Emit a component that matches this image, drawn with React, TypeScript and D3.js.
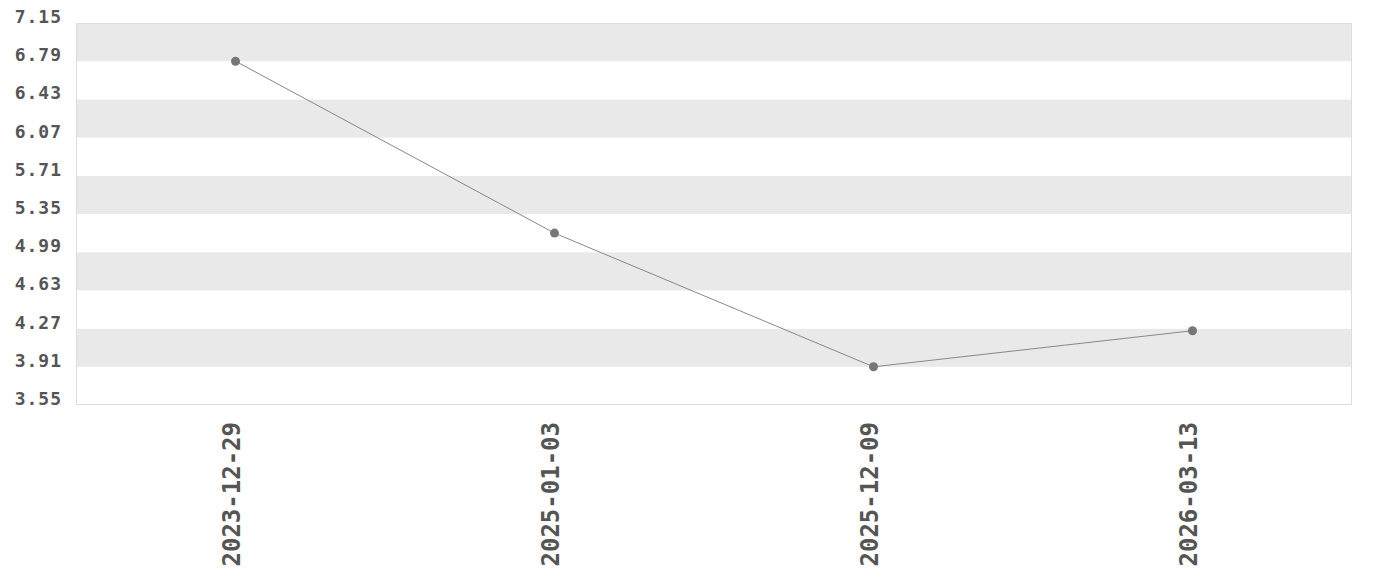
import React from "react";
import * as d3 from "d3";

const categories = ["2023-12-29", "2025-01-03", "2025-12-09", "2026-03-13"];
const values = [6.79, 5.17, 3.91, 4.25];
const yTicks = [3.55, 3.91, 4.27, 4.63, 4.99, 5.35, 5.71, 6.07, 6.43, 6.79, 7.15];

const W = 1380, H = 580;
const M = { left: 76, right: 28, top: 23, bottom: 175 };
const FONT = "'DejaVu Sans Mono', 'Liberation Mono', monospace";

export default function App() {
  const x = d3.scalePoint<string>().domain(categories).range([M.left, W - M.right]).padding(0.5);
  const y = d3.scaleLinear().domain([3.55, 7.15]).range([H - M.bottom, M.top]);
  const line = d3.line<number>().x((_, i) => x(categories[i])!).y((d) => y(d));
  const bands = yTicks.slice(0, -1).map((t, i) => ({ lo: t, hi: yTicks[i + 1], idx: i }));
  return (
    <svg width={W} height={H} style={{ position: "absolute", left: 0, top: 0, background: "#fff" }}>
      {bands.map((b) => (
        <rect key={b.idx} x={M.left} width={W - M.right - M.left} y={y(b.hi)} height={y(b.lo) - y(b.hi)}
          fill={(yTicks.length - 2 - b.idx) % 2 === 0 ? "#e9e9e9" : "#ffffff"} />
      ))}
      <rect x={M.left + 0.5} y={M.top + 0.5} width={W - M.right - M.left - 1} height={y(3.55) - M.top - 1} fill="none" stroke="#dddddd" strokeWidth={1} />
      {yTicks.map((t) => (
        <text key={t} x={62} y={y(t)} textAnchor="end" fontFamily={FONT} fontWeight="bold" fontSize={18}
          letterSpacing={1} fill="#555">{t.toFixed(2)}</text>
      ))}
      {categories.map((c) => (
        <text key={c} transform={`translate(${x(c)! - 4},${422}) rotate(-90)`} textAnchor="end" dy="0.35em"
          fontFamily={FONT} fontWeight="bold" fontSize={24} fill="#555">{c}</text>
      ))}
      <path d={line(values) || ""} fill="none" stroke="#888" strokeWidth={1} />
      {values.map((v, i) => (
        <circle key={i} cx={x(categories[i])} cy={y(v)} r={4.5} fill="#777" />
      ))}
    </svg>
  );
}
